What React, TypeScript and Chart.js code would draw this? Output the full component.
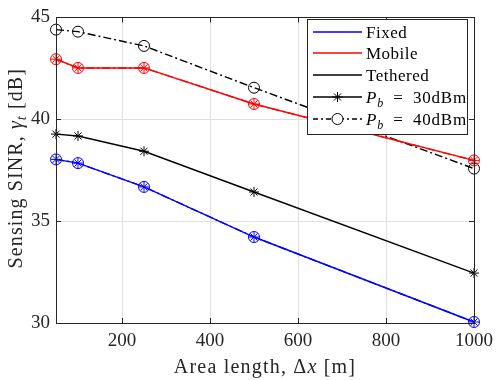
import { useEffect, useRef } from "react";
import { Chart, registerables } from "chart.js";
Chart.register(...registerables);

const areaLength = [50, 100, 250, 500, 1000];
const fixed30 = [38.03, 37.85, 36.68, 34.22, 30.05];
const fixed40 = [38.03, 37.85, 36.68, 34.22, 30.05];
const mobile30 = [42.95, 42.52, 42.52, 40.75, 37.98];
const mobile40 = [42.95, 42.52, 42.52, 40.75, 37.98];
const tethered30 = [39.27, 39.18, 38.43, 36.43, 32.45];
const tethered40 = [44.4, 44.3, 43.6, 41.55, 37.58];
const xTicks = [200, 400, 600, 800, 1000];
const yTicks = [30, 35, 40, 45];

const BLUE = "#0000ff";
const RED = "#ff0000";
const BLACK = "#000000";
const AXIS = "#262626";
const SERIF = "'Liberation Serif', 'DejaVu Serif', serif";
const DASHDOT = [8, 3, 2, 3];

function mk(label: string, data: number[], color: string, dashed: boolean) {
  return {
    label,
    data: areaLength.map((x, i) => ({ x, y: data[i] })),
    borderColor: color,
    backgroundColor: "rgba(0,0,0,0)",
    borderWidth: 1.4,
    borderDash: dashed ? DASHDOT : [],
    pointStyle: dashed ? "circle" : "star",
    pointRadius: dashed ? 5.5 : 5,
    pointBorderWidth: 1,
    pointBorderColor: color,
    pointBackgroundColor: "rgba(0,0,0,0)",
    clip: false as any,
    tension: 0,
  };
}

const framePlugin = {
  id: "frame",
  afterDraw(chart: any) {
    const ctx = chart.ctx as CanvasRenderingContext2D;
    const { left, right, top, bottom } = chart.chartArea;
    const xs = chart.scales.x;
    const ys = chart.scales.y;
    ctx.save();
    ctx.strokeStyle = AXIS;
    ctx.lineWidth = 1;
    ctx.strokeRect(Math.round(left) + 0.5, Math.round(top) + 0.5, Math.round(right - left), Math.round(bottom - top));
    const tl = 5;
    ctx.beginPath();
    for (const v of xTicks) {
      const px = Math.round(xs.getPixelForValue(v)) + 0.5;
      ctx.moveTo(px, bottom);
      ctx.lineTo(px, bottom - tl);
      ctx.moveTo(px, top);
      ctx.lineTo(px, top + tl);
    }
    for (const v of yTicks) {
      const py = Math.round(ys.getPixelForValue(v)) + 0.5;
      ctx.moveTo(left, py);
      ctx.lineTo(left + tl, py);
      ctx.moveTo(right, py);
      ctx.lineTo(right - tl, py);
    }
    ctx.stroke();

    const c: any = ctx;
    const drawSegs = (segs: [string, string, number][], cx: number, cy: number, spacing: string, align: "center" | "left") => {
      c.letterSpacing = spacing;
      let w = 0;
      for (const [t, f] of segs) {
        ctx.font = f;
        w += ctx.measureText(t).width;
      }
      let x = align === "center" ? cx - w / 2 : cx;
      for (const [t, f, dy] of segs) {
        ctx.font = f;
        ctx.fillText(t, x, cy + dy);
        x += ctx.measureText(t).width;
      }
      c.letterSpacing = "0px";
    };

    // axis titles
    ctx.fillStyle = AXIS;
    ctx.textBaseline = "alphabetic";
    ctx.textAlign = "left";
    const fs = 20;
    const reg = `${fs}px ${SERIF}`;
    const ital = `italic ${fs}px ${SERIF}`;
    const sub = `italic 14px ${SERIF}`;
    drawSegs(
      [
        ["Area length, ", reg, 0],
        ["\u0394", reg, 0],
        ["x", ital, 0],
        [" [m]", reg, 0],
      ],
      (left + right) / 2,
      373,
      "1.2px",
      "center"
    );
    ctx.save();
    ctx.translate(22, (top + bottom) / 2 - 2);
    ctx.rotate(-Math.PI / 2);
    drawSegs(
      [
        ["Sensing SINR, ", reg, 0],
        ["\u03b3", ital, 0],
        ["t", sub, 4],
        [" [dB]", reg, 0],
      ],
      0,
      0,
      "1.1px",
      "center"
    );
    ctx.restore();

    // legend
    const bx = 307.5, by = 19.5, bw = 160, bh = 115;
    ctx.fillStyle = "#ffffff";
    ctx.fillRect(bx, by, bw, bh);
    ctx.strokeStyle = AXIS;
    ctx.lineWidth = 1;
    ctx.strokeRect(bx, by, bw, bh);
    const lf = `17px ${SERIF}`;
    const li = `italic 17px ${SERIF}`;
    const ls = `italic 12px ${SERIF}`;
    const rows: { label: [string, string, number][]; color: string; dash: boolean; marker: string | null; sp: string }[] = [
      { label: [["Fixed", lf, 0]], color: BLUE, dash: false, marker: null, sp: "0.5px" },
      { label: [["Mobile", lf, 0]], color: RED, dash: false, marker: null, sp: "0.5px" },
      { label: [["Tethered", lf, 0]], color: BLACK, dash: false, marker: null, sp: "0.5px" },
      {
        label: [
          ["P", li, 0],
          ["b", ls, 4],
          ["\u2009 = \u200930dBm", lf, 0],
        ],
        color: BLACK,
        dash: false,
        marker: "star",
        sp: "0.8px",
      },
      {
        label: [
          ["P", li, 0],
          ["b", ls, 4],
          ["\u2009 = \u200940dBm", lf, 0],
        ],
        color: BLACK,
        dash: true,
        marker: "circle",
        sp: "0.8px",
      },
    ];
    const rowY = [32, 53, 75, 97, 119];
    rows.forEach((r, i) => {
      const y = rowY[i];
      ctx.strokeStyle = r.color;
      ctx.lineWidth = 1.4;
      ctx.setLineDash(r.dash ? [5, 3, 2, 3] : []);
      ctx.beginPath();
      ctx.moveTo(313, y);
      ctx.lineTo(362, y);
      ctx.stroke();
      ctx.setLineDash([]);
      const mx = 337.5;
      ctx.lineWidth = 1;
      if (r.marker === "star") {
        ctx.beginPath();
        const rr = 5;
        for (let k = 0; k < 4; k++) {
          const a = (k * Math.PI) / 4;
          ctx.moveTo(mx + rr * Math.cos(a), y + rr * Math.sin(a));
          ctx.lineTo(mx - rr * Math.cos(a), y - rr * Math.sin(a));
        }
        ctx.stroke();
      } else if (r.marker === "circle") {
        ctx.fillStyle = "#ffffff";
        ctx.beginPath();
        ctx.arc(mx, y, 5.5, 0, Math.PI * 2);
        ctx.fill();
        ctx.stroke();
      }
      ctx.fillStyle = "#000000";
      drawSegs(r.label, 366, y + 6, r.sp, "left");
    });
    ctx.restore();
  },
};

export default function App() {
  const ref = useRef<HTMLCanvasElement | null>(null);
  useEffect(() => {
    document.body.style.margin = "0";
    const canvas = ref.current!;
    const chart = new Chart(canvas, {
      type: "line",
      data: {
        datasets: [
          mk("Fixed 30", fixed30, BLUE, false),
          mk("Fixed 40", fixed40, BLUE, true),
          mk("Mobile 30", mobile30, RED, false),
          mk("Mobile 40", mobile40, RED, true),
          mk("Tethered 30", tethered30, BLACK, false),
          mk("Tethered 40", tethered40, BLACK, true),
        ] as any,
      },
      options: {
        animation: false,
        responsive: false,
        maintainAspectRatio: false,
        layout: { padding: { left: 0, right: 20, top: 6, bottom: 0 } },
        plugins: { legend: { display: false }, tooltip: { enabled: false } },
        scales: {
          x: {
            type: "linear",
            min: 50,
            max: 1000,
            afterBuildTicks: (s: any) => {
              s.ticks = xTicks.map((v) => ({ value: v }));
            },
            afterFit: (s: any) => {
              s.height = 57;
            },
            grid: { color: "#dfdfdf", drawTicks: false, lineWidth: 1 },
            border: { display: false },
            ticks: {
              color: AXIS,
              font: { family: SERIF, size: 19 },
              padding: 7,
              maxRotation: 0,
              autoSkip: false,
              callback: (v: any) => String(v),
            },
          },
          y: {
            type: "linear",
            min: 30,
            max: 45,
            afterBuildTicks: (s: any) => {
              s.ticks = yTicks.map((v) => ({ value: v }));
            },
            afterFit: (s: any) => {
              s.width = 56;
            },
            grid: { color: "#dfdfdf", drawTicks: false, lineWidth: 1 },
            border: { display: false },
            ticks: {
              color: AXIS,
              font: { family: SERIF, size: 19 },
              padding: 6,
              callback: (v: any) => String(v),
            },
          },
        },
      },
      plugins: [framePlugin],
    });
    return () => chart.destroy();
  }, []);
  return (
    <div style={{ width: 500, height: 380 }}>
      <canvas ref={ref} width={500} height={380} style={{ display: "block" }} />
    </div>
  );
}
